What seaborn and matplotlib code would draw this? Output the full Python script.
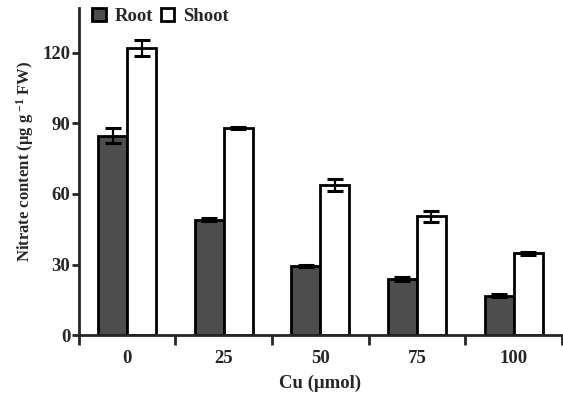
import matplotlib
matplotlib.use("Agg")
import matplotlib.pyplot as plt
import seaborn as sns
import pandas as pd
import numpy as np
from matplotlib.patches import Patch

cu_levels = ["0", "25", "50", "75", "100"]
root_vals = [84.8, 49.0, 29.5, 23.8, 16.8]
root_err = [3.0, 0.7, 0.4, 0.7, 0.5]
shoot_vals = [122.0, 88.0, 63.8, 50.5, 34.8]
shoot_err = [3.6, 0.5, 2.5, 2.4, 0.7]
series = ["Root", "Shoot"]

df = pd.DataFrame({
    "Cu": cu_levels * 2,
    "value": root_vals + shoot_vals,
    "err": root_err + shoot_err,
    "part": [series[0]] * 5 + [series[1]] * 5,
})

sns.set_style("ticks")
plt.rcParams["font.family"] = ["Liberation Serif", "DejaVu Serif"]
plt.rcParams["font.weight"] = "bold"
plt.rcParams["axes.labelweight"] = "bold"
plt.rcParams["mathtext.fontset"] = "custom"
plt.rcParams["mathtext.rm"] = "Liberation Serif:bold"
plt.rcParams["mathtext.it"] = "Liberation Serif:bold"
plt.rcParams["mathtext.bf"] = "Liberation Serif:bold"
plt.rcParams["mathtext.default"] = "rm"

FS = 13.5

fig = plt.figure(figsize=(5.63, 3.99), dpi=100)
ax = fig.add_axes([0.140, 0.160, 0.858, 0.820])

sns.barplot(data=df, x="Cu", y="value", hue="part", order=cu_levels,
            hue_order=series, palette={"Root": "#4d4d4d", "Shoot": "#ffffff"},
            width=0.6, gap=0, errorbar=None, edgecolor="black", linewidth=2.0,
            saturation=1, legend=False, ax=ax)

# error bars at bar centers
for patch, (_, row) in zip(ax.patches, df.iterrows()):
    xc = patch.get_x() + patch.get_width() / 2
    ax.errorbar(xc, row["value"], yerr=row["err"], fmt="none", ecolor="black",
                elinewidth=1.6, capsize=6, capthick=2.2)

ax.set_xlim(-0.5, 4.5)
ax.set_ylim(0, 139)
ax.set_yticks([0, 30, 60, 90, 120])
ax.set_xticks(range(5))
ax.set_xticklabels(cu_levels)
ax.set_xticks(np.arange(-0.5, 5, 1.0), minor=True)
ax.tick_params(axis="x", which="major", length=0, labelsize=FS, pad=11)
ax.tick_params(axis="x", which="minor", length=7, width=2, direction="out")
ax.tick_params(axis="y", length=5, width=2, labelsize=FS, pad=1)
for s in ["left", "bottom"]:
    ax.spines[s].set_linewidth(2)
sns.despine(ax=ax)

ax.set_xlabel("Cu (μmol)", fontsize=FS, labelpad=5)
ax.set_ylabel("Nitrate content (μg g$^{\\ \\mathbf{-1}}$ FW)", fontsize=12, labelpad=7)
ax.yaxis.set_label_coords(-0.088, 0.53)

handles = [Patch(facecolor="#4d4d4d", edgecolor="black", linewidth=2),
           Patch(facecolor="white", edgecolor="black", linewidth=2)]
ax.legend(handles, series, loc="upper left", bbox_to_anchor=(0.005, 1.035), ncol=2,
          frameon=False, fontsize=13.5, handlelength=0.7, handleheight=0.7,
          handletextpad=0.5, columnspacing=0.4, borderaxespad=0.2)

fig.savefig("out.png", dpi=100)
